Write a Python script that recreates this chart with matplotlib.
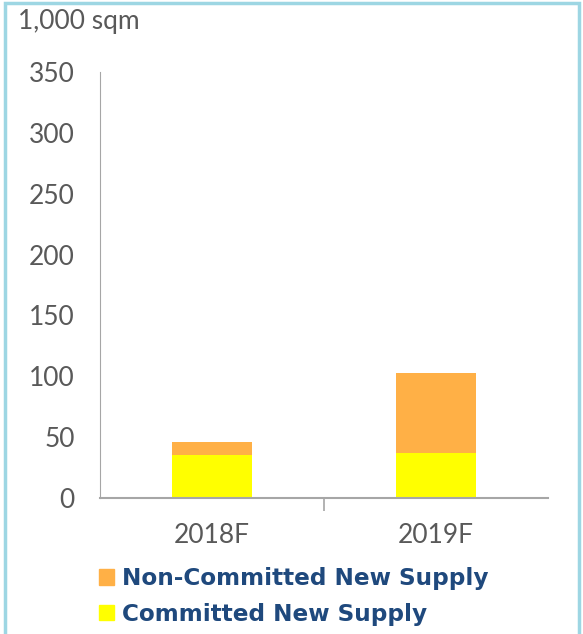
import matplotlib.pyplot as plt
from matplotlib.patches import Rectangle, Patch

# ===================== Dados =====================
anos = ['2018F', '2019F']
committed = [35, 37]
non_committed = [11, 66]
yticks = [0, 50, 100, 150, 200, 250, 300, 350]

cor_committed = '#FFFF00'
cor_non = '#FFB046'
cor_texto = '#595959'
cor_legenda = '#1F497D'

plt.rcParams['font.family'] = ['Lato', 'DejaVu Sans']

fig = plt.figure(figsize=(5.83, 6.34), dpi=100)
ax = fig.add_axes([100/583, 1 - 498/634, 448/583, 426/634])

x = range(len(anos))
ax.bar(x, committed, width=0.36, color=cor_committed, edgecolor='none', zorder=2)
ax.bar(x, non_committed, width=0.36, bottom=committed, color=cor_non,
       edgecolor='none', zorder=2)

ax.set_xlim(-0.5, 1.5)
ax.set_ylim(0, 350)
ax.set_yticks(yticks)
ax.set_xticks([0, 1])
ax.set_xticklabels(anos)
ax.set_xticks([0.5], minor=True)
ax.tick_params(axis='y', length=0, labelsize=19, labelcolor=cor_texto, pad=18)
ax.tick_params(axis='x', which='major', length=0, labelsize=19,
               labelcolor=cor_texto, pad=18)
ax.tick_params(axis='x', which='minor', length=9, width=1.2, color='#A6A6A6')

for lado in ['top', 'right']:
    ax.spines[lado].set_visible(False)
ax.spines['left'].set_color('#A6A6A6')
ax.spines['bottom'].set_color('#A6A6A6')
ax.spines['bottom'].set_linewidth(1.5)

fig.text(18/583, 1 - 22/634, '1,000 sqm', fontsize=19, color=cor_texto,
         va='center', ha='left')

handles = [Patch(color=cor_non, label='Non-Committed New Supply'),
           Patch(color=cor_committed, label='Committed New Supply')]
leg = fig.legend(handles=handles, loc='upper left',
                 bbox_to_anchor=(99/583, 1 - 567/634), frameon=False,
                 prop={'size': 16.7, 'weight': 'bold', 'family': 'DejaVu Sans'},
                 handlelength=0.65, handleheight=0.65, handletextpad=0.35,
                 labelspacing=0.55, borderpad=0, borderaxespad=0)
for t in leg.get_texts():
    t.set_color(cor_legenda)

# moldura azul clara
fig.patches.append(Rectangle((0.008, -0.01), 0.985, 1.005, transform=fig.transFigure,
                             fill=False, edgecolor='#9DD6E3', linewidth=2.5))

fig.savefig('out.png', dpi=100)
